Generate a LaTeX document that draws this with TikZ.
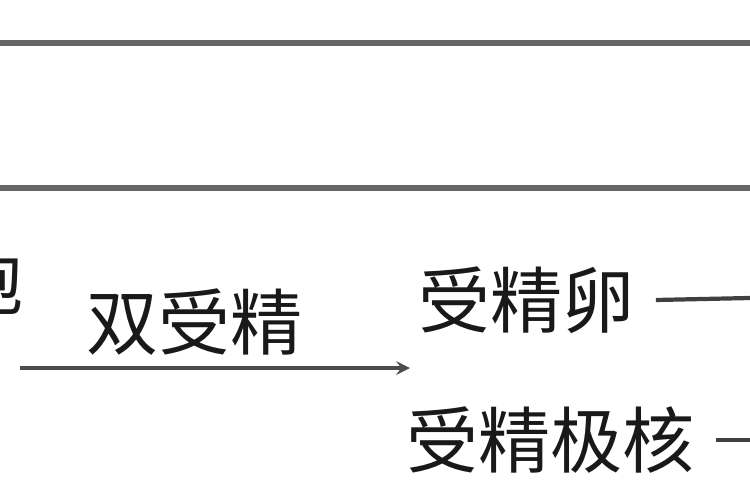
\documentclass[tikz,border=0pt]{standalone}
\usepackage{fontspec}
\setmainfont{Noto Sans CJK SC}
\begin{document}
\begin{tikzpicture}[x=0.02cm, y=-0.02cm,
        word/.style={inner sep=0pt, text=black!90, font=\fontsize{41pt}{41pt}\selectfont},
        rule/.style={line width=3.2pt, draw=black!60}]
        \useasboundingbox (0,0) rectangle (750,500);
        \draw[rule] (0,43) -- (750,43);
        \draw[rule] (0,188) -- (750,188);

        \node[word, anchor=east] (cell) at (24,282) {胞};
        \node[word, anchor=west] (fert) at (86,322) {双受精};
        \node[word, anchor=west] (zyg) at (418,300) {受精卵};
        \node[word, anchor=west] (endo) at (406,440) {受精极核};

        \coordinate (a0) at (20,368);
        \coordinate (a1) at (410,368);
        \coordinate (z1) at (750,298);
        \coordinate (e1) at (750,440);

        \draw[->, >=stealth, line width=2.4pt, draw=black!70] (a0) -- (a1);
        \draw[line width=2.4pt, draw=black!75] ([xshift=12pt]zyg.east) -- (z1);
        \draw[line width=2.4pt, draw=black!75] ([xshift=12pt]endo.east) -- (e1);
    \end{tikzpicture}
\end{document}
